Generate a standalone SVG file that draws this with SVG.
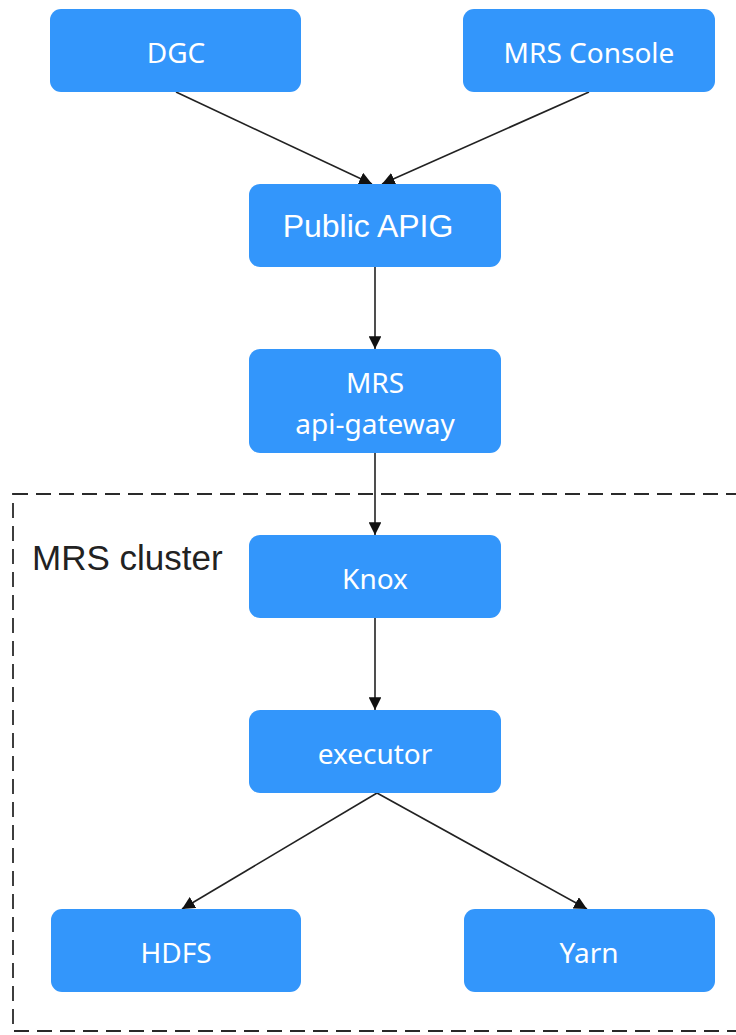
<svg xmlns="http://www.w3.org/2000/svg" width="736" height="1035" viewBox="0 0 736 1035">
<style>
.node rect{fill:#3396fb;}
.node text{fill:#fff;font-family:"Noto Sans","Open Sans",sans-serif;font-size:28px;text-anchor:middle;}
.edge{stroke:#222;stroke-width:1.6;fill:none;marker-end:url(#arr);}
.cluster{fill:none;stroke:#2a2a2a;stroke-width:1.8;stroke-dasharray:15 8;}
</style>
<defs>
<marker id="arr" viewBox="0 0 10 10" refX="10" refY="5" markerWidth="8" markerHeight="8" orient="auto" markerUnits="strokeWidth">
<path d="M0,0 L10,5 L0,10 z" fill="#111"/>
</marker>
</defs>
<rect fill="#fff" x="0" y="0" width="736" height="1035"/>
<g id="cluster">
<rect class="cluster" x="13" y="494" width="740" height="537"/>
<text x="32" y="570" font-family="Liberation Sans, Arial, sans-serif" font-size="35" fill="#222">MRS cluster</text>
</g>
<g id="connectors">
<line class="edge" x1="176" y1="92" x2="372" y2="184"/>
<line class="edge" x1="589" y1="92" x2="382" y2="184"/>
<line class="edge" x1="375" y1="267" x2="375" y2="349"/>
<line class="edge" x1="375" y1="453" x2="375" y2="535"/>
<line class="edge" x1="375" y1="618" x2="375" y2="710"/>
<line class="edge" x1="377" y1="793" x2="182" y2="909"/>
<line class="edge" x1="377" y1="793" x2="587" y2="909"/>
</g>
<g id="dgc" class="node"><rect x="50" y="9" width="251" height="83" rx="11"/><text x="176" y="63">DGC</text></g>
<g id="mrs-console" class="node"><rect x="463" y="9" width="252" height="83" rx="11"/><text x="589" y="63">MRS Console</text></g>
<g id="public-apig" class="node"><rect x="249" y="184" width="252" height="83" rx="11"/><text x="368" y="237" style="font-family:'Liberation Sans',Arial,sans-serif;font-size:32px">Public APIG</text></g>
<g id="mrs-api-gateway" class="node"><rect x="249" y="349" width="252" height="104" rx="11"/><text x="375" y="393">MRS</text><text x="375" y="434">api-gateway</text></g>
<g id="knox" class="node"><rect x="249" y="535" width="252" height="83" rx="11"/><text x="375" y="589">Knox</text></g>
<g id="executor" class="node"><rect x="249" y="710" width="252" height="83" rx="11"/><text x="375" y="764">executor</text></g>
<g id="hdfs" class="node"><rect x="51" y="909" width="250" height="83" rx="11"/><text x="176" y="963">HDFS</text></g>
<g id="yarn" class="node"><rect x="464" y="909" width="251" height="83" rx="11"/><text x="589" y="963">Yarn</text></g>
</svg>
